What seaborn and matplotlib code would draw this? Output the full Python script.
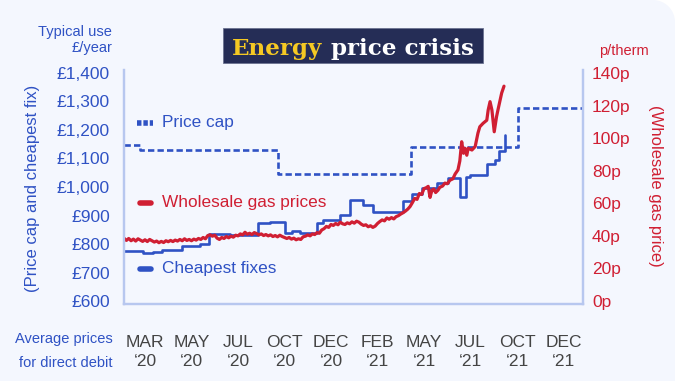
import matplotlib
matplotlib.use("Agg")
import matplotlib.pyplot as plt
import seaborn as sns
import pandas as pd
from matplotlib.patches import Rectangle, Circle
from matplotlib.lines import Line2D

# ---------------- data ----------------
month_labels = ["MAR\n\u201820", "MAY\n\u201820", "JUL\n\u201820", "OCT\n\u201820", "DEC\n\u201820",
                "FEB\n\u201821", "MAY\n\u201821", "JUL\n\u201821", "OCT\n\u201821", "DEC\n\u201821"]
tick_pos = list(range(len(month_labels)))

left_ticks = [600, 700, 800, 900, 1000, 1100, 1200, 1300, 1400]
left_labels = ["£600", "£700", "£800", "£900", "£1,000", "£1,100", "£1,200", "£1,300", "£1,400"]
right_ticks = [0, 20, 40, 60, 80, 100, 120, 140]
right_labels = ["0p", "20p", "40p", "60p", "80p", "100p", "120p", "140p"]

# Price cap (£/year typical use)
cap_x = [-0.45, -0.11, 2.86, 5.72, 8.02, 9.42]
cap_gbp = [1147, 1130, 1045, 1139, 1276, 1276]

# Cheapest fixes (£/year)
fix_x = [-0.45, -0.04, 0.17, 0.37, 0.80, 1.18, 1.38, 1.83, 2.43, 2.69, 3.01, 3.16, 3.33, 3.70,
         3.83, 4.19, 4.41, 4.69, 4.90, 5.55, 5.74, 5.96, 6.28, 6.52, 6.77, 6.90, 6.99, 7.35,
         7.53, 7.61, 7.74]
fix_gbp = [774, 767, 773, 778, 793, 799, 835, 833, 874, 877, 839, 847, 839, 874,
           884, 902, 954, 937, 911, 952, 975, 996, 1015, 1032, 965, 1035, 1042, 1081,
           1095, 1126, 1182]

# Wholesale gas prices (p/therm)
gas_x = [-0.45, -0.40, -0.35, -0.30, -0.25, -0.20, -0.15, -0.10, -0.05, 0.00, 0.05, 0.10, 0.15,
         0.20, 0.25, 0.30, 0.35, 0.40, 0.45, 0.50, 0.55, 0.60, 0.65, 0.70, 0.75, 0.80, 0.85,
         0.90, 0.95, 1.00, 1.05, 1.10, 1.15, 1.20, 1.25, 1.30, 1.35, 1.40, 1.45, 1.50, 1.55,
         1.60, 1.65, 1.70, 1.75, 1.80, 1.85, 1.90, 1.95, 2.00, 2.05, 2.10, 2.15, 2.20, 2.25,
         2.30, 2.35, 2.40, 2.45, 2.50, 2.55, 2.60, 2.65, 2.70, 2.75, 2.80, 2.85, 2.90, 2.95,
         3.00, 3.05, 3.10, 3.15, 3.20, 3.25, 3.30, 3.35, 3.40, 3.45, 3.50, 3.55, 3.60, 3.65,
         3.70, 3.75, 3.80, 3.85, 3.90, 3.95, 4.00, 4.05, 4.10, 4.15, 4.20, 4.25, 4.30, 4.35,
         4.40, 4.45, 4.50, 4.55, 4.60, 4.65, 4.70, 4.75, 4.80, 4.85, 4.90, 4.95, 5.00, 5.05,
         5.10, 5.15, 5.20, 5.25, 5.30, 5.35, 5.40, 5.45, 5.50, 5.55, 5.60, 5.65, 5.70, 5.75,
         5.80, 5.85, 5.90, 5.95, 6.00, 6.05, 6.09, 6.13, 6.17, 6.21, 6.25, 6.30, 6.34, 6.40,
         6.45, 6.50, 6.56, 6.62, 6.67, 6.73, 6.77, 6.81, 6.85, 6.88, 6.92, 6.95, 7.03, 7.10,
         7.16, 7.20, 7.27, 7.35, 7.38, 7.42, 7.46, 7.51, 7.56, 7.59, 7.67, 7.72]
gas_p = [38.5, 37.2, 38.4, 37.0, 38.0, 36.8, 38.2, 37.4, 36.6, 37.6, 36.5, 37.8, 37.0,
         36.2, 36.8, 35.8, 36.6, 35.9, 37.0, 36.4, 37.2, 36.5, 37.4, 36.8, 37.8, 37.0, 38.2,
         37.2, 37.8, 37.0, 38.0, 37.4, 38.4, 37.8, 39.0, 38.2, 40.2, 40.6, 39.8, 40.4, 38.6,
         37.8, 39.0, 38.4, 39.6, 38.8, 39.8, 39.2, 40.4, 40.0, 41.2, 40.6, 42.2, 41.0, 41.6,
         40.8, 42.0, 41.4, 40.6, 41.2, 40.2, 40.8, 40.0, 40.6, 39.6, 40.2, 39.4, 40.4, 39.6,
         39.0, 38.4, 39.0, 38.0, 38.6, 37.6, 38.2, 37.8, 39.4, 39.8, 40.6, 40.0, 41.2, 40.8,
         42.0, 41.6, 43.6, 44.4, 45.8, 45.2, 47.0, 46.4, 47.6, 46.8, 48.4, 47.4, 47.0, 48.0,
         47.4, 48.6, 47.8, 49.0, 48.4, 47.2, 46.4, 46.8, 45.6, 46.2, 45.2, 46.0, 47.6, 48.8,
         49.8, 49.2, 51.0, 50.2, 51.2, 50.4, 51.8, 52.4, 53.4, 54.2, 55.2, 56.4, 58.0, 60.4,
         63.0, 62.4, 66.0, 65.4, 69.0, 69.6, 70.4, 63.6, 68.0, 68.8, 66.6, 68.0, 69.8, 70.6,
         72.4, 72.0, 74.2, 75.0, 78.0, 80.5, 86.0, 97.8, 90.7, 93.8, 89.5, 93.8, 92.7, 94.8,
         103.1, 107.0, 109.1, 111.0, 117.3, 122.4, 117.3, 103.9, 113.2, 117.3, 127.7, 131.9]

# ---------------- style ----------------
W, H = 675, 381
BG = "#F4F7FE"
BLUE = "#2F52C4"
RED = "#D01F33"
SPINE = "#B7C7EF"
NAVY = "#252D56"
GREY = "#444444"

sns.set_theme(style="white")
plt.rcParams["font.family"] = ["Liberation Sans", "DejaVu Sans"]

fig = plt.figure(figsize=(W / 100, H / 100), dpi=100)
fig.patch.set_facecolor(BG)


def fx(x):
    return x / W


def fy(y):
    return 1 - y / H


# rounded top-right corner
fig.patches.append(Rectangle((W - 22, H - 22), 22, 22, transform=None, facecolor="white",
                             edgecolor="none", zorder=0))
fig.patches.append(Circle((W - 22, H - 22), 22, transform=None, facecolor=BG,
                          edgecolor="none", zorder=0.5))

ax = fig.add_axes([fx(124), fy(304), fx(583) - fx(124), fy(70) - fy(304)])
ax.set_facecolor("none")

Y0, Y1 = 589.5, 1410.5
ax.set_xlim(-0.4516, 9.419)
ax.set_ylim(Y0, Y1)

cap_df = pd.DataFrame({"x": cap_x, "v": cap_gbp})
fix_df = pd.DataFrame({"x": fix_x, "v": fix_gbp})
gas_df = pd.DataFrame({"x": gas_x, "p": gas_p})

sns.lineplot(data=cap_df, x="x", y="v", ax=ax, color=BLUE, linewidth=1.9,
             drawstyle="steps-post", linestyle=(0, (2.4, 1.2)), estimator=None, sort=False,
             errorbar=None)
sns.lineplot(data=fix_df, x="x", y="v", ax=ax, color=BLUE, linewidth=1.9,
             drawstyle="steps-post", estimator=None, sort=False, errorbar=None)

ax2 = ax.twinx()
ax2.set_ylim((Y0 - 600) * 0.175, (Y1 - 600) * 0.175)
sns.lineplot(data=gas_df, x="x", y="p", ax=ax2, color=RED, linewidth=2.3,
             estimator=None, sort=False, errorbar=None)

for a in (ax, ax2):
    a.set_xlabel("")
    a.set_ylabel("")
    a.grid(False)
    for s in a.spines.values():
        s.set_color(SPINE)
        s.set_linewidth(1.6)
    a.spines["top"].set_visible(False)

ax.set_xticks(tick_pos)
ax.set_xticklabels(month_labels, linespacing=1.35)
ax.set_yticks(left_ticks)
ax.set_yticklabels(left_labels)
ax2.set_yticks(right_ticks)
ax2.set_yticklabels(right_labels)

ax.tick_params(axis="x", length=0, pad=22, labelsize=12.5, labelcolor=GREY)
ax.tick_params(axis="y", length=0, pad=10, labelsize=12.5, labelcolor=BLUE)
ax2.tick_params(axis="y", length=0, pad=6.5, labelsize=12.5, labelcolor=RED)

# ---------------- texts ----------------
fig.text(fx(112), fy(32), "Typical use", ha="right", va="center", fontsize=10.5, color=BLUE)
fig.text(fx(112), fy(48), "£/year", ha="right", va="center", fontsize=10.5, color=BLUE)
fig.text(fx(624), fy(51), "p/therm", ha="center", va="center", fontsize=10.5, color=RED)
fig.text(fx(113), fy(339.5), "Average prices", ha="right", va="center", fontsize=10.5, color=BLUE)
fig.text(fx(113), fy(363), "for direct debit", ha="right", va="center", fontsize=10.5, color=BLUE)
fig.text(fx(33), fy(188), "(Price cap and cheapest fix)", ha="center", va="center",
         rotation=90, fontsize=12, color=BLUE)
fig.text(fx(655), fy(186), "(Wholesale gas price)", ha="center", va="center",
         rotation=270, fontsize=12, color=RED)

# legend labels and handles
fig.text(fx(162), fy(123), "Price cap", ha="left", va="center", fontsize=12.4, color=BLUE)
fig.text(fx(162), fy(203), "Wholesale gas prices", ha="left", va="center", fontsize=12.4, color=RED)
fig.text(fx(162), fy(269), "Cheapest fixes", ha="left", va="center", fontsize=12.4, color=BLUE)
fig.lines.append(Line2D([fx(137), fx(153)], [fy(123), fy(123)], transform=fig.transFigure,
                        color=BLUE, linewidth=4, linestyle=(0, (0.8, 0.35)),
                        dash_capstyle="butt"))
fig.lines.append(Line2D([fx(139.5), fx(150.5)], [fy(203), fy(203)], transform=fig.transFigure,
                        color=RED, linewidth=4, solid_capstyle="round"))
fig.lines.append(Line2D([fx(139.5), fx(150.5)], [fy(269), fy(269)], transform=fig.transFigure,
                        color=BLUE, linewidth=4, solid_capstyle="round"))

# title
fig.patches.append(Rectangle((fx(223), fy(63)), fx(483) - fx(223), fy(28) - fy(63),
                             transform=fig.transFigure, facecolor=NAVY, edgecolor="#6B7391",
                             linewidth=0.6))
fig.text(fx(232), fy(55), "Energy", ha="left", va="baseline", fontsize=16.6,
         fontweight="bold", family=["DejaVu Serif"], color="#F5C923")
fig.text(fx(474), fy(55), "price crisis", ha="right", va="baseline", fontsize=16.6,
         fontweight="bold", family=["DejaVu Serif"], color="white")

fig.savefig("out.png", dpi=100, facecolor=fig.get_facecolor())
